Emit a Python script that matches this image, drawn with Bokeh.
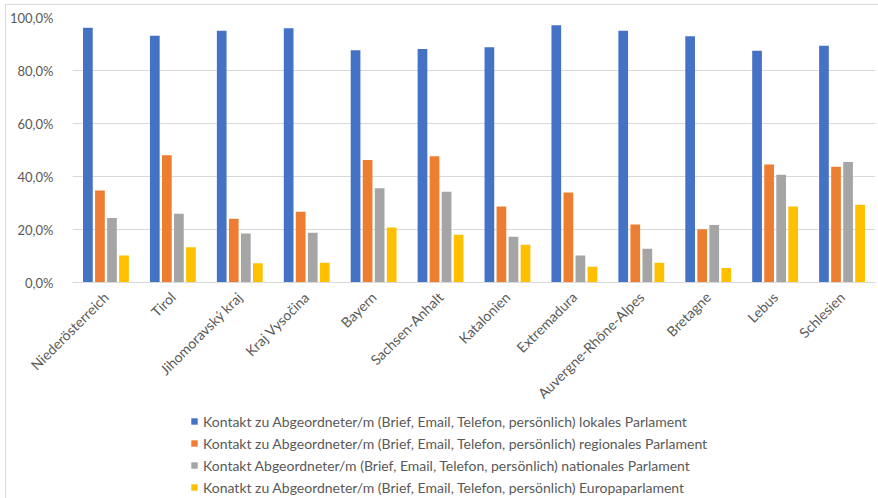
import math
from bokeh.plotting import figure
from bokeh.layouts import column
from bokeh.models import (ColumnDataSource, FactorRange, Range1d, FixedTicker,
                          CustomJSTickFormatter, Legend, LegendItem)
from bokeh.transform import dodge
from bokeh.embed import file_html
from bokeh.resources import INLINE

regions = ["Niederösterreich", "Tirol", "Jihomoravský kraj", "Kraj Vysočina",
           "Bayern", "Sachsen-Anhalt", "Katalonien", "Extremadura",
           "Auvergne-Rhône-Alpes", "Bretagne", "Lebus", "Schlesien"]

# Share of respondents (%) with contact to a representative, per level
lokal = [96.1, 93.1, 95.0, 95.9, 87.6, 88.1, 88.8, 97.1, 95.0, 92.9, 87.5, 89.3]
regional = [34.7, 48.0, 24.1, 26.7, 46.2, 47.6, 28.7, 34.0, 21.9, 20.1, 44.5, 43.7]
national = [24.3, 25.9, 18.5, 18.8, 35.6, 34.2, 17.3, 10.2, 12.7, 21.7, 40.7, 45.5]
europa = [10.2, 13.3, 7.3, 7.5, 20.8, 18.0, 14.2, 5.9, 7.5, 5.5, 28.7, 29.3]

series_labels = [
    "Kontakt zu Abgeordneter/m (Brief, Email, Telefon, persönlich) lokales Parlament",
    "Kontakt zu Abgeordneter/m (Brief, Email, Telefon, persönlich) regionales Parlament",
    "Kontakt Abgeordneter/m (Brief, Email, Telefon, persönlich) nationales Parlament",
    "Konatkt zu Abgeordneter/m (Brief, Email, Telefon, persönlich) Europaparlament",
]
colors = ["#4472C4", "#ED7D31", "#A5A5A5", "#FFC000"]
y_ticks = [0, 20, 40, 60, 80, 100]

FONT = "Lato"
TEXT = "#595959"
GRID = "#d9d9d9"

source = ColumnDataSource(data=dict(region=regions, lokal=lokal, regional=regional,
                                    national=national, europa=europa))
cols = ["lokal", "regional", "national", "europa"]
offsets = [-0.27, -0.09, 0.09, 0.27]
BAR_W = 0.145

# --- bar chart -------------------------------------------------------------
p = figure(width=872, height=405, output_backend="svg", toolbar_location=None,
           x_range=FactorRange(factors=regions, range_padding=0),
           y_range=Range1d(0, 100),
           min_border_left=62, min_border_right=3, min_border_top=12,
           min_border_bottom=127)
p.outline_line_color = None
p.background_fill_color = "white"
p.border_fill_color = "white"

for col, off, c in zip(cols, offsets, colors):
    p.vbar(x=dodge("region", off, range=p.x_range), top=col, width=BAR_W,
           bottom=0, source=source, fill_color=c, line_color=None)

p.yaxis.ticker = FixedTicker(ticks=y_ticks)
p.yaxis.formatter = CustomJSTickFormatter(
    code="return tick.toFixed(1).replace('.', ',') + '%';")
p.yaxis.axis_line_color = None
p.yaxis.major_tick_line_color = None
p.yaxis.minor_tick_line_color = None
p.yaxis.major_label_standoff = 13
p.yaxis.major_label_text_font = FONT
p.yaxis.major_label_text_font_size = "13px"
p.yaxis.major_label_text_color = TEXT

p.xaxis.axis_line_color = GRID
p.xaxis.major_tick_line_color = None
p.xaxis.minor_tick_line_color = None
p.xaxis.major_label_orientation = math.pi / 4
p.xaxis.major_label_standoff = 6
p.xaxis.major_label_text_font = FONT
p.xaxis.major_label_text_font_size = "14px"
p.xaxis.major_label_text_color = TEXT

p.xgrid.grid_line_color = None
p.ygrid.grid_line_color = GRID
p.ygrid.ticker = FixedTicker(ticks=y_ticks)

# --- legend strip below the chart -------------------------------------------
# The series are repeated here only to provide the legend swatches; the
# strip's value range lies above every bar, so none of them is painted.
lp = figure(width=872, height=88, output_backend="svg", toolbar_location=None,
            x_range=p.x_range, y_range=Range1d(200, 300),
            x_axis_type=None, y_axis_type=None,
            min_border_left=0, min_border_right=0, min_border_top=0,
            min_border_bottom=0)
lp.outline_line_color = None
lp.xgrid.grid_line_color = None
lp.ygrid.grid_line_color = None
lp.border_fill_color = "white"

swatches = [lp.vbar(x=dodge("region", off, range=lp.x_range), top=col,
                    width=BAR_W, bottom=0, source=source,
                    fill_color=c, line_color=None)
            for col, off, c in zip(cols, offsets, colors)]

legend = Legend(items=[LegendItem(label=l, renderers=[r])
                       for l, r in zip(series_labels, swatches)],
                location=(118, 0), orientation="vertical",
                padding=0, margin=0, spacing=0, label_height=22,
                glyph_width=8, glyph_height=8, label_standoff=5,
                border_line_color=None, background_fill_alpha=0,
                label_text_font=FONT, label_text_font_size="14px",
                label_text_color=TEXT)
lp.add_layout(legend)

layout = column(p, lp, spacing=0, margin=(4, 0, 0, 5),
                styles={"border-left": f"1px solid {GRID}",
                        "border-top": f"1px solid {GRID}"})

open("out.html", "w").write(file_html(layout, INLINE))
